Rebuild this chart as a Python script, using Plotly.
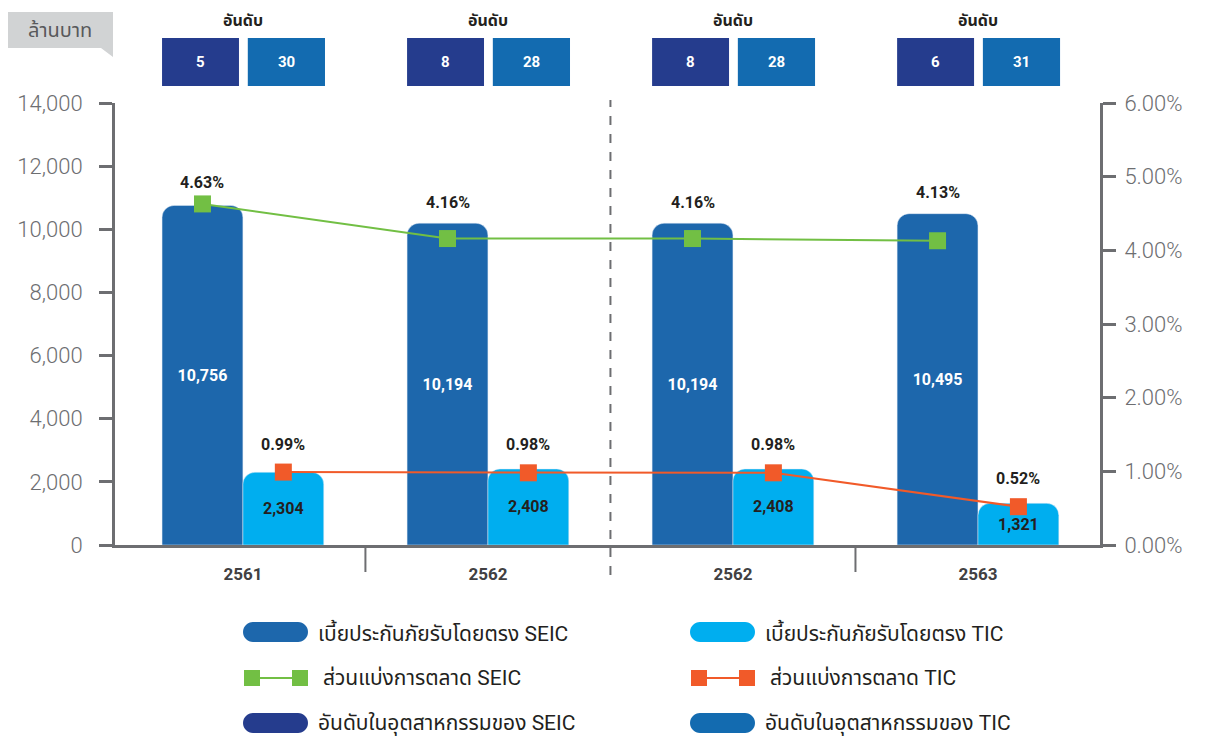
import plotly.graph_objects as go

# data
years = ["2561", "2562", "2562", "2563"]
premium_seic = [10756, 10194, 10194, 10495]
premium_tic = [2304, 2408, 2408, 1321]
share_seic = [4.63, 4.16, 4.16, 4.13]
share_tic = [0.99, 0.98, 0.98, 0.52]
rank_seic = [5, 8, 8, 6]
rank_tic = [30, 28, 28, 31]

C_SEIC = "#1d67ac"
C_TIC = "#00aeef"
C_GREEN = "#72bf44"
C_ORANGE = "#f15a29"
C_NAVY = "#253c8d"
C_BLUE = "#136bb0"
C_AXIS = "#6d6e71"
C_TEXT = "#231f20"
FONT = "Roboto, 'Noto Sans Thai', 'Noto Sans', sans-serif"

# the page body adds an 8px margin, so the figure is 8px smaller than the window
OFF = 8
W, H = 1206 - OFF, 736 - OFF
ML, MR, MT, MB = 115 - OFF, 106, 103 - OFF, 191
PW, PH = W - ML - MR, H - MT - MB

Y_MAX, Y2_MAX = 14000, 6
BAR_W = 0.33
xs = list(range(len(years)))


def px(x):
    # window pixel -> paper x
    return (x - OFF - ML) / PW


def py(y):
    # window pixel -> paper y
    return (H - MB - (y - OFF)) / PH


fig = go.Figure()
fig.add_trace(go.Bar(x=xs, y=premium_seic, marker_color=C_SEIC, width=BAR_W, offset=-BAR_W,
                     text=[f"<b>{v:,}</b>" for v in premium_seic], textposition="inside",
                     insidetextanchor="middle", textfont=dict(color="white", size=16)))
fig.add_trace(go.Bar(x=xs, y=premium_tic, marker_color=C_TIC, width=BAR_W, offset=0,
                     text=[f"<b>{v:,}</b>" for v in premium_tic], textposition="inside",
                     insidetextanchor="middle", textfont=dict(color=C_TEXT, size=16)))
fig.add_trace(go.Scatter(x=[i - BAR_W / 2 for i in xs], y=share_seic, yaxis="y2",
                         mode="lines+markers", line=dict(color=C_GREEN, width=2),
                         marker=dict(symbol="square", size=17, color=C_GREEN)))
fig.add_trace(go.Scatter(x=[i + BAR_W / 2 for i in xs], y=share_tic, yaxis="y2",
                         mode="lines+markers", line=dict(color=C_ORANGE, width=2),
                         marker=dict(symbol="square", size=17, color=C_ORANGE)))

shapes = []
annotations = []

# share labels: above the marker or above the bar top, whichever is higher
for i in xs:
    top = max(share_seic[i], premium_seic[i] * Y2_MAX / Y_MAX)
    annotations.append(dict(x=i - BAR_W / 2, y=top, xref="x", yref="y2", yshift=21,
                            text=f"<b>{share_seic[i]:.2f}%</b>", showarrow=False,
                            xanchor="center", yanchor="middle", font=dict(size=16, color=C_TEXT)))
    annotations.append(dict(x=i + BAR_W / 2, y=share_tic[i], xref="x", yref="y2", yshift=28,
                            text=f"<b>{share_tic[i]:.2f}%</b>", showarrow=False,
                            xanchor="center", yanchor="middle", font=dict(size=16, color=C_TEXT)))

# separators
shapes.append(dict(type="line", xref="x", yref="paper", x0=1.5, x1=1.5, y0=py(575), y1=py(100),
                   line=dict(color=C_AXIS, width=2, dash="dash")))
for xv in [0.5, 2.5]:
    shapes.append(dict(type="line", xref="x", yref="paper", x0=xv, x1=xv, y0=py(545), y1=py(572),
                       line=dict(color=C_AXIS, width=2)))

# rank boxes
for i in xs:
    annotations.append(dict(x=i, y=py(20), xref="x", yref="paper", text="<b>อันดับ</b>",
                            xanchor="center", yanchor="middle", showarrow=False,
                            font=dict(size=16, color=C_TEXT)))
    for x0, x1, val, col in [(i - 0.33, i - 0.016, rank_seic[i], C_NAVY),
                             (i + 0.02, i + 0.335, rank_tic[i], C_BLUE)]:
        shapes.append(dict(type="rect", xref="x", yref="paper", x0=x0, x1=x1, y0=py(86), y1=py(38),
                           fillcolor=col, line_width=0))
        annotations.append(dict(x=(x0 + x1) / 2, y=py(62), xref="x", yref="paper", text=f"<b>{val}</b>",
                                xanchor="center", yanchor="middle", showarrow=False,
                                font=dict(size=15, color="white")))

# unit tag
shapes.append(dict(type="path", xref="paper", yref="paper",
                   path=f"M {px(7)},{py(12)} L {px(113)},{py(12)} L {px(113)},{py(57)} "
                        f"L {px(101)},{py(48)} L {px(7)},{py(48)} Z",
                   fillcolor="#d1d3d4", line_width=0))
annotations.append(dict(x=px(60), y=py(30), xref="paper", yref="paper", text="ล้านบาท",
                        xanchor="center", yanchor="middle", showarrow=False,
                        font=dict(size=20, color="#58595b")))


def pill(cx, cy, color, w=65, h=20):
    r = h / 2
    a = w / 2 - r
    k = 0.5523 * r
    path = (f"M {-a},{-r} L {a},{-r} C {a + k},{-r} {a + r},{-k} {a + r},0 "
            f"C {a + r},{k} {a + k},{r} {a},{r} L {-a},{r} "
            f"C {-a - k},{r} {-a - r},{k} {-a - r},0 C {-a - r},{-k} {-a - k},{-r} {-a},{-r} Z")
    return dict(type="path", xref="paper", yref="paper", xsizemode="pixel", ysizemode="pixel",
                xanchor=px(cx), yanchor=py(cy), path=path, fillcolor=color, line_width=0)


def line_key(x0, x1, cy, color, s=16):
    out = [dict(type="line", xref="paper", yref="paper", x0=px(x0), x1=px(x1), y0=py(cy), y1=py(cy),
                line=dict(color=color, width=2))]
    for cx in (x0, x1):
        out.append(dict(type="rect", xref="paper", yref="paper", x0=px(cx - s / 2), x1=px(cx + s / 2),
                        y0=py(cy - s / 2), y1=py(cy + s / 2), fillcolor=color, line_width=0))
    return out


legend_items = [
    ("pill", C_SEIC, "เบี้ยประกันภัยรับโดยตรง SEIC", 0, 632),
    ("pill", C_TIC, "เบี้ยประกันภัยรับโดยตรง TIC", 1, 632),
    ("line", C_GREEN, "ส่วนแบ่งการตลาด SEIC", 0, 678),
    ("line", C_ORANGE, "ส่วนแบ่งการตลาด TIC", 1, 678),
    ("pill", C_NAVY, "อันดับในอุตสาหกรรมของ SEIC", 0, 723),
    ("pill", C_BLUE, "อันดับในอุตสาหกรรมของ TIC", 1, 723),
]
for kind, col, label, c, ry in legend_items:
    x0 = 243 if c == 0 else 690
    if kind == "pill":
        shapes.append(pill(x0 + 32.5, ry, col))
        tx = x0 + 73
    else:
        shapes.extend(line_key(x0 + 9, x0 + 57, ry, col))
        tx = x0 + 78
    annotations.append(dict(x=px(tx), y=py(ry), xref="paper", yref="paper", text=label,
                            xanchor="left", yanchor="middle", showarrow=False,
                            font=dict(size=21, color=C_TEXT)))

fig.update_layout(
    width=W, height=H,
    margin=dict(l=ML, r=MR, t=MT, b=MB, autoexpand=False),
    plot_bgcolor="white", paper_bgcolor="white",
    font=dict(family=FONT),
    showlegend=False,
    barcornerradius=12,
    shapes=shapes,
    annotations=annotations,
    xaxis=dict(range=[-0.522, 3.498], tickvals=xs, ticktext=[f"<b>{y}</b>" for y in years],
               showline=True, linecolor=C_AXIS, linewidth=3, ticks="", showgrid=False, zeroline=False,
               tickfont=dict(size=17, color="#414042"), ticklabelstandoff=12, automargin=False),
    yaxis=dict(range=[0, Y_MAX], dtick=2000, tickformat=",", showline=True, linecolor=C_AXIS, linewidth=3,
               ticks="outside", ticklen=13, tickwidth=3, tickcolor=C_AXIS, showgrid=False, zeroline=False,
               tickfont=dict(size=22, color=C_AXIS, weight=300), ticklabelstandoff=12, automargin=False),
    yaxis2=dict(range=[0, Y2_MAX], dtick=1, tickformat=".2f", ticksuffix="%", overlaying="y", side="right",
                showline=True, linecolor=C_AXIS, linewidth=3, ticks="outside", ticklen=13, tickwidth=3,
                tickcolor=C_AXIS, showgrid=False, zeroline=False, ticklabelstandoff=4, automargin=False,
                tickfont=dict(size=22, color=C_AXIS, weight=300)),
)

fig.write_html("out.html")
